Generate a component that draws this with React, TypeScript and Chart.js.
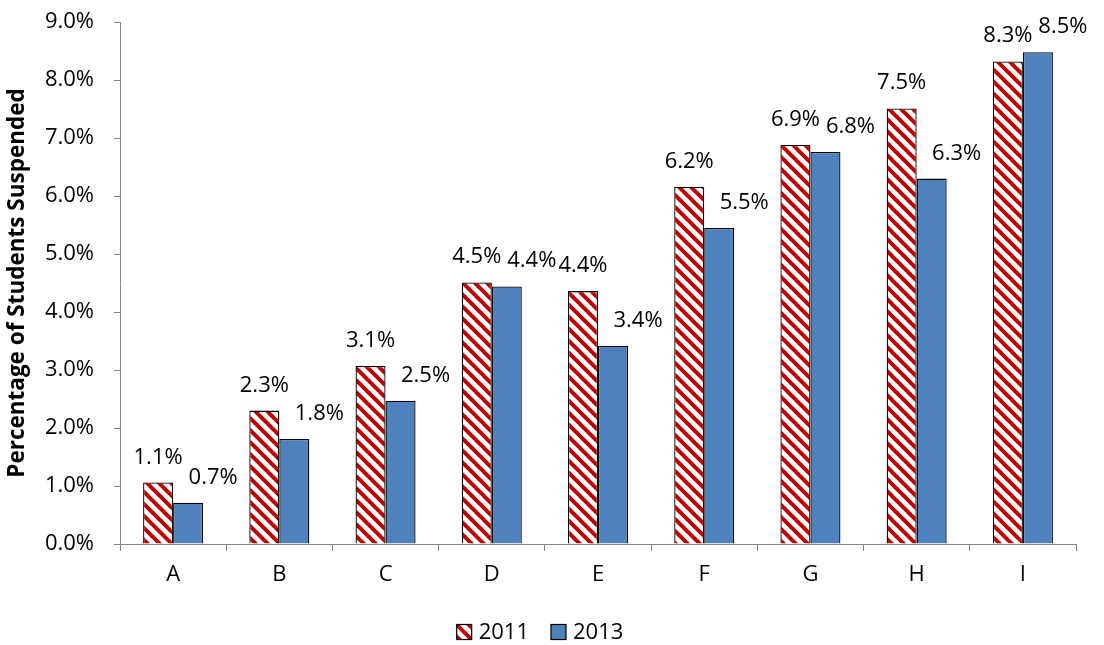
import React, { useEffect, useRef } from "react";
import { Chart, registerables } from "chart.js";

Chart.register(...registerables);

const categories = ["A", "B", "C", "D", "E", "F", "G", "H", "I"];
const values2011 = [1.06, 2.3, 3.07, 4.51, 4.36, 6.16, 6.88, 7.51, 8.32];
const values2013 = [0.71, 1.81, 2.47, 4.44, 3.42, 5.45, 6.76, 6.3, 8.48];
const seriesLabels = ["2011", "2013"];
const yTicks = [0, 1, 2, 3, 4, 5, 6, 7, 8, 9];

const FONT = "'Open Sans', sans-serif";
const FS = 22;

function makeStripePattern(): CanvasPattern | string {
  const size = 12;
  const c = document.createElement("canvas");
  c.width = size;
  c.height = size;
  const ctx = c.getContext("2d");
  if (!ctx) return "#C00000";
  ctx.fillStyle = "#ffffff";
  ctx.fillRect(0, 0, size, size);
  ctx.strokeStyle = "#C00000";
  ctx.lineWidth = 4;
  ctx.beginPath();
  for (let k = -1; k <= 1; k++) {
    ctx.moveTo(k * size - 2, -2);
    ctx.lineTo(k * size + size + 2, size + 2);
  }
  ctx.stroke();
  const p = ctx.createPattern(c, "repeat");
  return p || "#C00000";
}

const labelPlugin = {
  id: "barValueLabels",
  afterDatasetsDraw(chart: any) {
    const ctx = chart.ctx;
    ctx.save();
    ctx.font = `${FS}px ${FONT}`;
    ctx.fillStyle = "#000";
    ctx.textAlign = "center";
    ctx.textBaseline = "alphabetic";
    const dxs = [0, 25];
    chart.data.datasets.forEach((ds: any, di: number) => {
      const meta = chart.getDatasetMeta(di);
      meta.data.forEach((bar: any, i: number) => {
        const v = ds.data[i] as number;
        ctx.fillText(v.toFixed(1) + "%", bar.x + dxs[di], bar.y - 19);
      });
    });
    ctx.restore();
  },
};

const legendPlugin = {
  id: "bottomLegend",
  afterDraw(chart: any) {
    const ctx = chart.ctx;
    ctx.save();
    ctx.font = `${FS}px ${FONT}`;
    ctx.textBaseline = "middle";
    ctx.textAlign = "left";
    const box = 15;
    const gap = 7;
    const itemGap = 22;
    const ds = chart.data.datasets;
    const widths = ds.map((d: any) => box + gap + ctx.measureText(d.label).width);
    const total = widths.reduce((a: number, b: number) => a + b, 0) + itemGap * (ds.length - 1);
    let x = chart.width / 2 - 12 - total / 2;
    const cy = 632;
    ds.forEach((d: any, i: number) => {
      ctx.fillStyle = d.backgroundColor;
      ctx.fillRect(x, cy - box / 2, box, box);
      ctx.strokeStyle = "#000";
      ctx.lineWidth = 1.2;
      ctx.strokeRect(x, cy - box / 2, box, box);
      ctx.fillStyle = "#000";
      ctx.fillText(d.label, x + box + gap, cy + 1);
      x += widths[i] + itemGap;
    });
    ctx.restore();
  },
};

export default function App() {
  const ref = useRef<HTMLCanvasElement | null>(null);
  useEffect(() => {
    document.body.style.margin = "0";
    const canvas = ref.current;
    if (!canvas) return;
    const pattern = makeStripePattern();
    const chart = new Chart(canvas, {
      type: "bar",
      data: {
        labels: categories,
        datasets: [
          {
            label: seriesLabels[0],
            data: values2011,
            backgroundColor: pattern as any,
            borderColor: "#000000",
            borderWidth: 1.3,
            categoryPercentage: 0.565,
            barPercentage: 1,
          },
          {
            label: seriesLabels[1],
            data: values2013,
            backgroundColor: "#4F81BD",
            borderColor: "#000000",
            borderWidth: 1.3,
            categoryPercentage: 0.565,
            barPercentage: 1,
          },
        ],
      },
      options: {
        animation: false,
        responsive: false,
        maintainAspectRatio: false,
        layout: { padding: { top: 22, right: 28, left: 4, bottom: 30 } },
        plugins: {
          legend: { display: false },
          tooltip: { enabled: false },
        },
        scales: {
          x: {
            offset: true,
            afterFit(scale: any) {
              scale.height = 71;
            },
            grid: {
              offset: true,
              drawOnChartArea: false,
              drawTicks: true,
              tickLength: 7,
              color: "#868686",
            },
            border: { color: "#868686", width: 1 },
            ticks: {
              font: { family: FONT, size: FS },
              color: "#000",
              padding: 11,
            },
          },
          y: {
            min: 0,
            max: 9,
            afterBuildTicks(scale: any) {
              scale.ticks = yTicks.map((v) => ({ value: v }));
            },
            afterFit(scale: any) {
              scale.width = 116;
              scale.paddingTop = 0;
              scale.paddingBottom = 0;
            },
            grid: {
              drawOnChartArea: false,
              drawTicks: true,
              tickLength: 6,
              color: "#868686",
            },
            border: { color: "#868686", width: 1 },
            ticks: {
              font: { family: FONT, size: FS },
              color: "#000",
              padding: 20,
              callback: (v: any) => Number(v).toFixed(1) + "%",
            },
            title: {
              display: true,
              text: "Percentage of Students Suspended",
              font: { family: FONT, size: 22.5, weight: "bold" },
              color: "#000",
              padding: { top: 0, bottom: 0 },
            },
          },
        },
      },
      plugins: [labelPlugin, legendPlugin],
    });
    return () => chart.destroy();
  }, []);
  return (
    <div style={{ width: 1104, height: 645 }}>
      <canvas ref={ref} width={1104} height={645} style={{ display: "block" }} />
    </div>
  );
}
